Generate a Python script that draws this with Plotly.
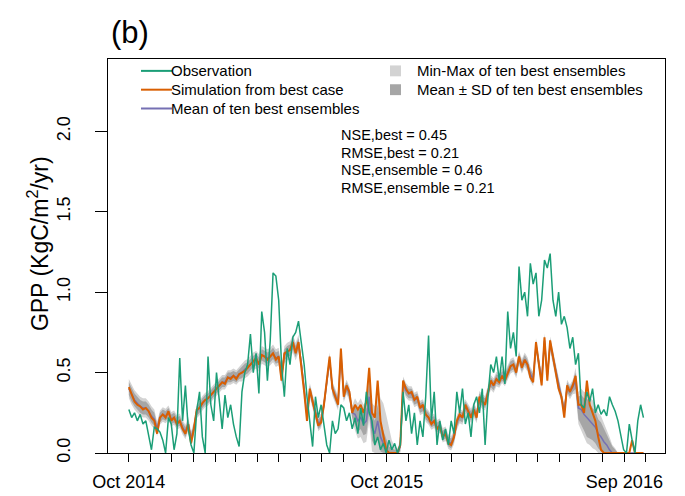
import plotly.graph_objects as go
import pandas as pd
import numpy as np

# ---------------- data (4-day resolution) ----------------
start_date = "2014-10-01"
step = "4D"

obs = [0.27, 0.22, 0.25, 0.20, 0.24, 0.18, 0.20, 0.12, 0.02, 0.16,
       0.15, 0.13, 0.08, 0.00, 0.22, 0.18, 0.02, 0.12, 0.59, 0.20,
       0.42, 0.15, 0.05, 0.00, 0.26, 0.38, 0.10, 0.00, 0.60, 0.30,
       0.20, 0.50, 0.30, 0.15, 0.36, 0.22, 0.30, 0.18, 0.10, 0.04,
       0.38, 0.50, 0.55, 0.74, 0.50, 0.62, 0.37, 0.88, 0.75, 0.45,
       0.70, 1.12, 1.10, 0.95, 0.55, 0.35, 0.65, 0.55, 0.72, 0.75,
       0.82, 0.70, 0.55, 0.35, 0.20, 0.04, 0.35, 0.22, 0.30, 0.18,
       0.05, 0.00, 0.20, 0.12, 0.15, 0.30, 0.28, 0.20, 0.25, 0.15,
       0.22, 0.12, 0.28, 0.17, 0.38, 0.25, 0.20, 0.05, 0.10, 0.02,
       0.06, 0.00, 0.08, 0.02, 0.06, 0.00, 0.05, 0.38, 0.20, 0.30,
       0.12, 0.25, 0.05, 0.20, 0.10, 0.35, 0.73, 0.20, 0.38, 0.05,
       0.20, 0.08, 0.15, 0.05, 0.20, 0.12, 0.38, 0.25, 0.40, 0.18,
       0.25, 0.10, 0.30, 0.35, 0.25, 0.40, 0.05, 0.35, 0.55, 0.50,
       0.60, 0.45, 0.60, 0.43, 0.88, 0.65, 0.75, 0.60, 1.16, 0.95,
       1.00, 0.85, 1.18, 1.05, 1.12, 0.85, 0.95, 1.20, 1.15, 1.24,
       0.95, 0.85, 1.00, 0.80, 0.85, 0.78, 0.65, 0.72, 0.55, 0.62,
       0.30, 0.28, 0.38, 0.32, 0.40, 0.25, 0.30, 0.24, 0.27, 0.23,
       0.35, 0.30, 0.26, 0.20, 0.12, 0.02, 0.00, 0.18, 0.08, 0.00,
       0.20, 0.30, 0.22]

sim_best = [0.41, 0.36, 0.32, 0.30, 0.29, 0.27, 0.28, 0.26, 0.22, 0.20,
            0.12, 0.22, 0.24, 0.22, 0.26, 0.20, 0.22, 0.18, 0.20, 0.15,
            0.12, 0.18, 0.06, 0.15, 0.27, 0.28, 0.31, 0.33, 0.34, 0.36,
            0.38, 0.40, 0.42, 0.44, 0.43, 0.47, 0.46, 0.48, 0.46, 0.49,
            0.50, 0.51, 0.53, 0.55, 0.57, 0.59, 0.55, 0.61, 0.60, 0.58,
            0.60, 0.62, 0.58, 0.60, 0.45, 0.62, 0.63, 0.64, 0.69, 0.62,
            0.69, 0.55, 0.38, 0.20, 0.40, 0.32, 0.25, 0.17, 0.19, 0.30,
            0.45, 0.60, 0.40, 0.35, 0.30, 0.65, 0.35, 0.42, 0.38, 0.25,
            0.30, 0.27, 0.30, 0.25, 0.32, 0.53, 0.25, 0.22, 0.45, 0.20,
            0.10, 0.02, 0.00, 0.00, 0.00, 0.00, 0.05, 0.45, 0.40, 0.37,
            0.38, 0.33, 0.35, 0.28, 0.30, 0.24, 0.22, 0.18, 0.20, 0.15,
            0.17, 0.10, 0.12, 0.06, 0.05, 0.10, 0.20, 0.24, 0.22, 0.30,
            0.26, 0.22, 0.27, 0.22, 0.35, 0.32, 0.30, 0.38, 0.45, 0.42,
            0.46, 0.44, 0.48, 0.45, 0.50, 0.54, 0.55, 0.50, 0.60, 0.53,
            0.58, 0.55, 0.47, 0.44, 0.69, 0.55, 0.42, 0.72, 0.45, 0.70,
            0.60, 0.50, 0.40, 0.35, 0.22, 0.42, 0.38, 0.42, 0.48, 0.30,
            0.30, 0.25, 0.45, 0.30, 0.25, 0.20, 0.10, 0.02, 0.00, 0.00,
            0.00, 0.00, 0.00, 0.00, 0.00, 0.00, 0.00, 0.00, 0.08, 0.00,
            0.00, 0.00, 0.00]

ens_mean = [0.40, 0.36, 0.33, 0.31, 0.29, 0.28, 0.28, 0.26, 0.23, 0.21,
            0.15, 0.22, 0.24, 0.23, 0.25, 0.21, 0.22, 0.19, 0.20, 0.16,
            0.13, 0.18, 0.09, 0.15, 0.26, 0.28, 0.31, 0.33, 0.34, 0.36,
            0.38, 0.40, 0.42, 0.44, 0.44, 0.47, 0.47, 0.48, 0.47, 0.49,
            0.50, 0.52, 0.53, 0.55, 0.57, 0.58, 0.56, 0.61, 0.60, 0.59,
            0.60, 0.62, 0.59, 0.60, 0.48, 0.61, 0.63, 0.64, 0.68, 0.63,
            0.68, 0.56, 0.40, 0.23, 0.39, 0.32, 0.25, 0.18, 0.20, 0.30,
            0.44, 0.58, 0.40, 0.35, 0.31, 0.62, 0.36, 0.41, 0.37, 0.25,
            0.24, 0.20, 0.22, 0.18, 0.20, 0.35, 0.16, 0.12, 0.20, 0.10,
            0.06, 0.02, 0.00, 0.00, 0.00, 0.00, 0.04, 0.43, 0.39, 0.37,
            0.37, 0.33, 0.34, 0.28, 0.29, 0.24, 0.22, 0.19, 0.20, 0.16,
            0.17, 0.11, 0.12, 0.07, 0.06, 0.10, 0.19, 0.23, 0.22, 0.29,
            0.26, 0.23, 0.27, 0.23, 0.34, 0.32, 0.31, 0.38, 0.44, 0.42,
            0.46, 0.45, 0.48, 0.46, 0.50, 0.54, 0.55, 0.51, 0.59, 0.54,
            0.58, 0.55, 0.49, 0.46, 0.67, 0.56, 0.45, 0.70, 0.48, 0.68,
            0.60, 0.51, 0.42, 0.36, 0.26, 0.41, 0.38, 0.41, 0.45, 0.28,
            0.27, 0.24, 0.22, 0.20, 0.18, 0.16, 0.12, 0.10, 0.07, 0.05,
            0.02, 0.00, 0.00, 0.00, 0.00, 0.00, 0.00, 0.00, 0.00, 0.00,
            0.00, 0.00, 0.00]

ens_sd = [0.040, 0.040, 0.040, 0.040, 0.040, 0.040, 0.040, 0.040, 0.040, 0.040,
          0.030, 0.030, 0.030, 0.030, 0.030, 0.030, 0.030, 0.030, 0.030, 0.030,
          0.030, 0.030, 0.030, 0.030, 0.030, 0.030, 0.030, 0.030, 0.030, 0.030,
          0.030, 0.030, 0.030, 0.030, 0.030, 0.030, 0.030, 0.030, 0.030, 0.030,
          0.035, 0.035, 0.035, 0.035, 0.035, 0.035, 0.035, 0.035, 0.035, 0.035,
          0.035, 0.035, 0.035, 0.035, 0.035, 0.035, 0.035, 0.035, 0.035, 0.035,
          0.035, 0.030, 0.030, 0.030, 0.030, 0.030, 0.030, 0.030, 0.030, 0.030,
          0.030, 0.030, 0.030, 0.030, 0.030, 0.030, 0.030, 0.030, 0.030, 0.030,
          0.060, 0.070, 0.070, 0.070, 0.080, 0.100, 0.080, 0.080, 0.100, 0.090,
          0.080, 0.060, 0.040, 0.030, 0.020, 0.020, 0.030, 0.030, 0.030, 0.030,
          0.030, 0.030, 0.030, 0.030, 0.030, 0.030, 0.030, 0.030, 0.030, 0.030,
          0.030, 0.030, 0.030, 0.030, 0.030, 0.030, 0.030, 0.030, 0.030, 0.030,
          0.030, 0.030, 0.030, 0.030, 0.030, 0.030, 0.030, 0.030, 0.030, 0.030,
          0.030, 0.030, 0.030, 0.030, 0.030, 0.030, 0.030, 0.030, 0.030, 0.030,
          0.030, 0.030, 0.030, 0.030, 0.030, 0.030, 0.030, 0.030, 0.030, 0.030,
          0.030, 0.030, 0.030, 0.030, 0.030, 0.030, 0.030, 0.030, 0.050, 0.070,
          0.090, 0.100, 0.120, 0.110, 0.100, 0.100, 0.090, 0.090, 0.080, 0.070,
          0.060, 0.040, 0.020, 0.000, 0.000, 0.000, 0.000, 0.000, 0.000, 0.000,
          0.000, 0.000, 0.000]

ens_halfrange = [0.060, 0.060, 0.060, 0.060, 0.060, 0.060, 0.060, 0.060, 0.060, 0.060,
                 0.045, 0.045, 0.045, 0.045, 0.045, 0.045, 0.045, 0.045, 0.045, 0.045,
                 0.045, 0.045, 0.045, 0.045, 0.045, 0.045, 0.045, 0.045, 0.045, 0.045,
                 0.045, 0.045, 0.045, 0.045, 0.045, 0.045, 0.045, 0.045, 0.045, 0.045,
                 0.055, 0.055, 0.055, 0.055, 0.055, 0.055, 0.055, 0.055, 0.055, 0.055,
                 0.055, 0.055, 0.055, 0.055, 0.055, 0.055, 0.055, 0.055, 0.055, 0.055,
                 0.055, 0.045, 0.045, 0.045, 0.045, 0.045, 0.045, 0.045, 0.045, 0.045,
                 0.045, 0.045, 0.045, 0.045, 0.045, 0.045, 0.045, 0.045, 0.045, 0.045,
                 0.100, 0.110, 0.120, 0.120, 0.130, 0.150, 0.150, 0.170, 0.220, 0.240,
                 0.250, 0.220, 0.150, 0.080, 0.040, 0.030, 0.040, 0.045, 0.045, 0.045,
                 0.045, 0.045, 0.045, 0.045, 0.045, 0.045, 0.045, 0.045, 0.045, 0.045,
                 0.045, 0.045, 0.045, 0.045, 0.045, 0.045, 0.045, 0.045, 0.045, 0.045,
                 0.045, 0.045, 0.045, 0.045, 0.045, 0.045, 0.045, 0.045, 0.045, 0.045,
                 0.045, 0.045, 0.045, 0.045, 0.045, 0.045, 0.045, 0.045, 0.045, 0.045,
                 0.045, 0.045, 0.045, 0.045, 0.045, 0.045, 0.045, 0.045, 0.045, 0.045,
                 0.045, 0.045, 0.045, 0.045, 0.045, 0.045, 0.045, 0.045, 0.080, 0.100,
                 0.130, 0.140, 0.160, 0.150, 0.150, 0.140, 0.130, 0.130, 0.120, 0.100,
                 0.080, 0.050, 0.030, 0.000, 0.000, 0.000, 0.000, 0.000, 0.000, 0.000,
                 0.000, 0.000, 0.000]

stats_lines = ["NSE,best = 0.45", "RMSE,best = 0.21",
               "NSE,ensemble = 0.46", "RMSE,ensemble = 0.21"]
legend_lines = ["Observation", "Simulation from best case", "Mean of ten best ensembles"]
legend_boxes = ["Min-Max of ten best ensembles", "Mean \u00b1 SD of ten best ensembles"]
x_tick_labels = {"2014-10-01": "Oct 2014", "2015-10-01": "Oct 2015", "2016-09-01": "Sep 2016"}
y_ticks = [0.0, 0.5, 1.0, 1.5, 2.0]

# ---------------- styling ----------------
C_OBS = "#1B9E77"
C_SIM = "#D95F02"
C_MEAN = "#7570B3"
C_MINMAX = "#D3D3D3"
C_SD = "#A6A6A6"
FONT = "Liberation Sans, Arial, sans-serif"

W, H = 685, 496
L, R, T, B = 100, 657, 51, 449


def px(xp):
    return (xp - L) / (R - L)


def py(yp):
    return (B - yp) / (B - T)


dates = pd.date_range(start_date, periods=len(obs), freq=step)
m = np.array(ens_mean)
sd = np.array(ens_sd)
hr = np.array(ens_halfrange)
mm_hi = np.clip(m + hr, 0, None)
mm_lo = np.clip(m - hr, 0, None)
sd_hi = np.clip(m + sd, 0, None)
sd_lo = np.clip(m - sd, 0, None)
xpoly = list(dates) + list(dates[::-1])

fig = go.Figure()
fig.add_trace(go.Scatter(x=xpoly, y=list(mm_hi) + list(mm_lo[::-1]), fill="toself",
                         fillcolor=C_MINMAX, line=dict(width=0), mode="lines",
                         hoverinfo="skip", showlegend=False))
fig.add_trace(go.Scatter(x=xpoly, y=list(sd_hi) + list(sd_lo[::-1]), fill="toself",
                         fillcolor=C_SD, line=dict(width=0), mode="lines",
                         hoverinfo="skip", showlegend=False))
fig.add_trace(go.Scatter(x=dates, y=ens_mean, mode="lines",
                         line=dict(color=C_MEAN, width=1.5), showlegend=False))
fig.add_trace(go.Scatter(x=dates, y=sim_best, mode="lines",
                         line=dict(color=C_SIM, width=2), showlegend=False))
fig.add_trace(go.Scatter(x=dates, y=obs, mode="lines",
                         line=dict(color=C_OBS, width=1.5), showlegend=False))

month_ticks = pd.date_range("2014-10-01", "2016-10-01", freq="MS")
tick_text = [x_tick_labels.get(d.strftime("%Y-%m-%d"), "") for d in month_ticks]

fig.update_layout(
    width=W, height=H,
    margin=dict(l=L, r=W - R, t=T, b=H - B, pad=0),
    paper_bgcolor="white", plot_bgcolor="white",
    font=dict(family=FONT, color="black"),
    xaxis=dict(range=["2014-09-01 12:00", "2016-10-28 12:00"],
               tickvals=list(month_ticks), ticktext=tick_text,
               ticks="outside", ticklen=8, tickwidth=1.2, tickcolor="black",
               ticklabelstandoff=4,
               showgrid=False, zeroline=False, showline=True, mirror=True,
               linecolor="black", linewidth=1.2,
               tickfont=dict(size=18, family=FONT)),
    yaxis=dict(range=[0, 2.45], tickvals=y_ticks,
               ticktext=["%.1f" % v for v in y_ticks],
               ticks="outside", ticklen=12, tickwidth=1.2, tickcolor="black",
               tickangle=-90, ticklabelstandoff=18,
               showgrid=False, zeroline=False, showline=True, mirror=True,
               linecolor="black", linewidth=1.2,
               tickfont=dict(size=18, family=FONT)),
)

ann = []
shapes = []
# panel label
ann.append(dict(text="(b)", x=px(101), y=py(24), xref="paper", yref="paper",
                xanchor="left", yanchor="middle", showarrow=False,
                font=dict(size=31, family=FONT)))
# y title
ann.append(dict(text="GPP (KgC/m<sup>2</sup>/yr)", x=px(30), y=py(238),
                xref="paper", yref="paper", textangle=-90,
                xanchor="center", yanchor="middle", showarrow=False,
                font=dict(size=23, family=FONT)))
# legend, line entries
leg_cols = [C_OBS, C_SIM, C_MEAN]
for k, (txt, col) in enumerate(zip(legend_lines, leg_cols)):
    yy = 63 + 19 * k
    shapes.append(dict(type="line", xref="paper", yref="paper",
                       x0=px(133), x1=px(164), y0=py(yy), y1=py(yy),
                       line=dict(color=col, width=2)))
    ann.append(dict(text=txt, x=px(162), y=py(yy), xref="paper", yref="paper",
                    xanchor="left", yanchor="middle", showarrow=False, borderpad=0,
                    font=dict(size=15, family=FONT)))
for k, (txt, col) in enumerate(zip(legend_boxes, [C_MINMAX, C_SD])):
    yy = 63 + 19 * k
    shapes.append(dict(type="rect", xref="paper", yref="paper",
                       x0=px(382), x1=px(393), y0=py(yy - 5.5), y1=py(yy + 5.5),
                       fillcolor=col, line=dict(width=0)))
    ann.append(dict(text=txt, x=px(408), y=py(yy), xref="paper", yref="paper",
                    xanchor="left", yanchor="middle", showarrow=False, borderpad=0,
                    font=dict(size=15, family=FONT)))
# stats text
for k, txt in enumerate(stats_lines):
    yy = 128 + 17.7 * k
    ann.append(dict(text=txt, x=px(332), y=py(yy), xref="paper", yref="paper",
                    xanchor="left", yanchor="middle", showarrow=False, borderpad=0,
                    font=dict(size=14.5, family=FONT)))

fig.update_layout(annotations=ann, shapes=shapes)
fig.write_html("out.html")
